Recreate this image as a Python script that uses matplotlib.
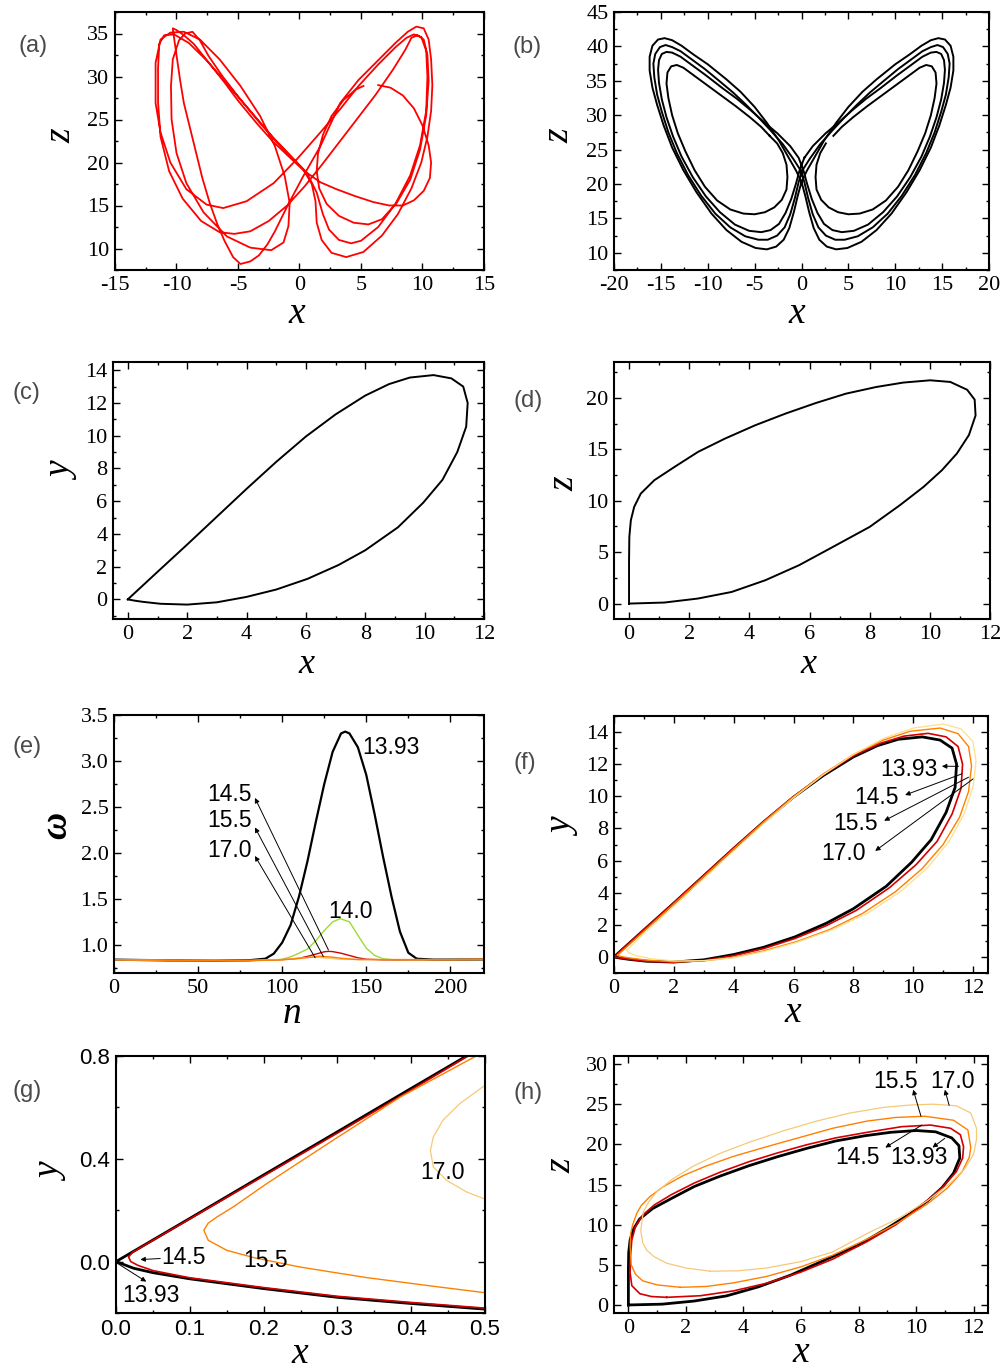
"""
Lorenz-type orbits: x-z butterflies, a single 13.93 orbit, and the
omega(n) bumps with the orbits for 13.93 / 14.5 / 15.5 / 17.0.
"""

import numpy as np
import matplotlib
matplotlib.use("Agg")
import matplotlib.pyplot as plt
from matplotlib.ticker import MultipleLocator, FormatStrFormatter

W, H = 1003, 1372

# ---------------- (a) red trajectory, x-z (four legs of one run) ----------------
a_leg1_x = [6.4, 7.4, 8.4, 9.3, 10.0, 10.5, 10.7, 10.6, 10.1, 9.3, 8.4, 7.3, 6.0, 4.5, 3.0, 1.7, 0.4,
            -0.8, -2.2, -3.5, -5.0, -6.2, -7.6, -8.6, -9.4, -10.0, -10.3]
a_leg1_z = [29.0, 28.7, 27.8, 26.3, 24.3, 22.0, 20.0, 18.2, 16.7, 15.6, 15.0, 15.0, 15.4, 16.1, 16.9, 17.7, 19.0,
            20.6, 22.5, 24.6, 27.2, 29.5, 32.0, 33.8, 34.8, 35.4, 35.6]
a_leg2_x = [-10.2, -10.0, -9.7, -9.4, -8.9, -8.4, -7.9, -7.3, -6.7, -6.1, -5.4, -4.8, -4.0, -3.3, -2.6, -2.0,
            -1.0, 0.3, 1.7, 3.3, 4.8, 6.4, 7.8, 8.8, 9.5, 10.1, 10.5, 10.7, 10.8, 10.7, 10.4, 9.9, 9.1, 8.0,
            6.7, 5.2, 3.8, 2.6, 1.8, 1.4, 1.3, 1.0, 0.3, -0.8]
a_leg2_z = [34.5, 32.5, 29.5, 26.9, 24.0, 21.1, 18.2, 15.3, 12.9, 10.9, 9.0, 8.2, 8.5, 9.2, 10.5, 12.0,
            14.9, 18.4, 21.9, 26.9, 29.6, 31.9, 33.9, 35.2, 35.8, 35.6, 34.3, 32.0, 29.0, 26.0, 23.0, 20.0, 17.0, 14.0,
            11.5, 9.6, 9.0, 9.5, 11.0, 13.0, 15.5, 17.5, 19.2, 20.8]
a_leg3_x = [-2.0, -3.4, -4.9, -6.3, -7.4, -8.1, -8.7, -9.3, -9.8, -10.3, -10.45, -10.4, -10.0, -9.2, -7.8,
            -5.9, -4.0, -2.3, -1.3, -0.9, -0.8, -1.2, -2.0, -3.2, -4.8, -6.5, -8.1, -9.4, -10.5, -11.3, -11.7,
            -11.7, -11.3, -10.5, -9.2, -7.55, -6.2, -4.3, -2.1, -0.2, 1.7, 3.3, 4.8, 6.4, 7.8, 8.7, 9.3, 9.9,
            10.3, 10.4, 10.3, 9.8, 9.0, 7.8, 6.4, 5.0, 4.2, 3.2, 2.4, 1.9, 1.4, 0.6, -0.6]
a_leg3_z = [22.6, 24.9, 27.5, 30.1, 32.4, 34.2, 35.2, 35.0, 34.2, 32.0, 28.9, 25.0, 21.1, 17.6, 14.2,
            11.4, 10.1, 9.8, 10.7, 12.6, 15.3, 18.4, 21.9, 25.4, 28.9, 32.0, 34.3, 35.2, 35.1, 34.3, 31.6,
            26.9, 23.5, 20.0, 16.9, 15.1, 14.7, 15.5, 17.6, 20.4, 23.5, 26.2, 28.9, 31.4, 33.4, 34.5, 34.9, 34.6,
            33.0, 30.0, 26.0, 22.0, 18.5, 15.2, 12.5, 10.9, 10.6, 11.0, 12.2, 14.0, 16.5, 18.8, 20.6]
a_leg4_x = [-2.2, -4.0, -5.8, -7.5, -9.0, -10.2, -11.0, -11.4, -11.5, -11.5, -11.3, -10.6, -9.5, -8.0,
            -6.5, -5.3, -4.0, -2.5, -1.0, 0.4, 1.8, 3.2, 4.7, 6.2, 7.6, 8.6, 9.1, 9.6, 10.1, 10.4, 10.5, 10.3,
            9.8, 9.0, 7.9, 6.7, 5.6, 4.4, 3.2, 2.2, 1.6, 1.4, 1.5, 1.9, 2.6, 3.6, 4.6, 5.2]
a_leg4_z = [23.0, 26.0, 29.0, 31.8, 33.9, 34.9, 34.8, 33.8, 31.0, 27.0, 23.0, 19.0, 15.8, 13.2,
            11.9, 11.7, 12.0, 13.2, 15.0, 17.2, 19.7, 22.3, 25.1, 27.9, 30.8, 33.1, 34.5, 34.8, 34.3, 32.5, 29.5, 25.5,
            21.5, 18.0, 15.3, 13.4, 12.8, 13.0, 13.8, 15.2, 17.0, 19.0, 21.0, 23.2, 25.4, 27.3, 28.5, 28.9]

# ---------------- (b) black butterfly, x-z: right lobes and left lobes ----------------
b_r1_x = [0.0, 0.6, 1.4, 2.4, 3.7, 5.0, 6.5, 8.0, 10.0, 11.5, 12.8, 13.8, 14.6, 15.3, 15.9, 16.2, 16.2, 15.9,
          15.4, 14.7, 13.8, 12.6, 11.2, 9.6, 8.0, 6.4, 4.9, 3.7, 2.7, 1.9, 1.3, 0.8, 0.4]
b_r1_z = [20.3, 22.0, 23.9, 26.3, 28.9, 31.2, 33.4, 35.2, 37.4, 38.8, 40.1, 40.9, 41.2, 41.0, 40.1, 38.5, 36.5,
          34.0, 31.5, 28.5, 25.3, 22.0, 18.8, 15.7, 13.3, 11.6, 10.7, 10.5, 10.9, 11.9, 13.6, 16.0, 18.3]
b_l1_x = [-0.0, -0.6, -1.4, -2.4, -3.7, -5.0, -6.5, -8.0, -10.0, -11.5, -12.8, -13.8, -14.6, -15.3, -15.9, -16.2,
          -16.2, -15.9, -15.4, -14.7, -13.8, -12.6, -11.2, -9.6, -8.0, -6.4, -4.9, -3.7, -2.7, -1.9, -1.3, -0.8, -0.4]
b_l1_z = [20.3, 22.0, 23.9, 26.3, 28.9, 31.2, 33.4, 35.2, 37.4, 38.8, 40.1, 40.9, 41.2, 41.0, 40.1, 38.5, 36.5,
          34.0, 31.5, 28.5, 25.3, 22.0, 18.8, 15.7, 13.3, 11.6, 10.7, 10.5, 10.9, 11.9, 13.6, 16.0, 18.3]
b_r2_x = [0.1, 0.9, 2.0, 3.3, 4.6, 5.9, 7.3, 8.7, 10.3, 11.7, 12.9, 13.8, 14.5, 15.1, 15.6, 15.8, 15.7, 15.4,
          14.9, 14.2, 13.3, 12.1, 10.7, 9.2, 7.6, 6.0, 4.6, 3.6, 2.6, 1.8, 1.2, 0.7, 0.3]
b_r2_z = [22.0, 23.7, 25.8, 27.8, 29.7, 31.5, 33.3, 34.9, 36.7, 38.1, 39.3, 39.9, 40.2, 39.9, 38.9, 37.5, 35.5,
          33.0, 30.5, 27.5, 24.5, 21.3, 18.3, 15.7, 13.7, 12.4, 11.9, 11.9, 12.5, 13.7, 15.6, 18.0, 20.3]
b_l2_x = [-0.1, -0.9, -2.0, -3.3, -4.6, -5.9, -7.3, -8.7, -10.3, -11.7, -12.9, -13.8, -14.5, -15.1, -15.6, -15.8,
          -15.7, -15.4, -14.9, -14.2, -13.3, -12.1, -10.7, -9.2, -7.6, -6.0, -4.6, -3.6, -2.6, -1.8, -1.2, -0.7, -0.3]
b_l2_z = [22.0, 23.7, 25.8, 27.8, 29.7, 31.5, 33.3, 34.9, 36.7, 38.1, 39.3, 39.9, 40.2, 39.9, 38.9, 37.5, 35.5,
          33.0, 30.5, 27.5, 24.5, 21.3, 18.3, 15.7, 13.7, 12.4, 11.9, 11.9, 12.5, 13.7, 15.6, 18.0, 20.3]
b_r3_x = [0.3, 1.2, 2.6, 4.0, 5.4, 6.9, 8.4, 10.2, 11.7, 12.9, 13.8, 14.4, 14.9, 15.2, 15.3, 15.2, 14.9, 14.4,
          13.7, 12.8, 11.6, 10.2, 8.7, 7.1, 5.6, 4.3, 3.3, 2.4, 1.7, 1.1, 0.6, 0.2]
b_r3_z = [23.8, 25.5, 27.4, 29.0, 30.7, 32.4, 33.9, 35.8, 37.3, 38.5, 39.1, 39.2, 38.9, 38.0, 36.6, 34.7, 32.3, 29.7,
          26.9, 24.0, 21.0, 18.2, 15.9, 14.1, 13.2, 13.0, 13.3, 14.2, 15.8, 17.8, 20.0, 22.0]
b_l3_x = [-0.3, -1.2, -2.6, -4.0, -5.4, -6.9, -8.4, -10.2, -11.7, -12.9, -13.8, -14.4, -14.9, -15.2, -15.3, -15.2,
          -14.9, -14.4, -13.7, -12.8, -11.6, -10.2, -8.7, -7.1, -5.6, -4.3, -3.3, -2.4, -1.7, -1.1, -0.6, -0.2]
b_l3_z = [23.8, 25.5, 27.4, 29.0, 30.7, 32.4, 33.9, 35.8, 37.3, 38.5, 39.1, 39.2, 38.9, 38.0, 36.6, 34.7, 32.3, 29.7,
          26.9, 24.0, 21.0, 18.2, 15.9, 14.1, 13.2, 13.0, 13.3, 14.2, 15.8, 17.8, 20.0, 22.0]
b_r4_x = [3.4, 4.3, 5.5, 7.0, 8.6, 10.2, 11.6, 12.6, 13.3, 13.9, 14.3, 14.4, 14.2, 13.8, 13.2, 12.4, 11.4, 10.3,
          9.0, 7.6, 6.2, 5.0, 3.9, 2.9, 2.1, 1.6, 1.5, 1.6, 2.0, 2.6]
b_r4_z = [27.0, 28.3, 29.7, 31.3, 32.9, 34.5, 35.9, 36.9, 37.3, 37.1, 36.2, 34.6, 32.5, 30.0, 27.4, 24.8, 22.0, 19.6,
          17.6, 16.3, 15.7, 15.6, 15.9, 16.6, 17.7, 19.2, 21.0, 22.8, 24.5, 25.9]
b_l4_x = [-3.4, -4.3, -5.5, -7.0, -8.6, -10.2, -11.6, -12.6, -13.3, -13.9, -14.3, -14.4, -14.2, -13.8, -13.2, -12.4,
          -11.4, -10.3, -9.0, -7.6, -6.2, -5.0, -3.9, -2.9, -2.1, -1.6, -1.5, -1.6, -2.0, -2.6, -3.4]
b_l4_z = [27.0, 28.3, 29.7, 31.3, 32.9, 34.5, 35.9, 36.9, 37.3, 37.1, 36.2, 34.6, 32.5, 30.0, 27.4, 24.8, 22.0, 19.6,
          17.6, 16.3, 15.7, 15.6, 15.9, 16.6, 17.7, 19.2, 21.0, 22.8, 24.5, 25.9, 27.0]

# ---------------- orbit 13.93: (c) x-y and (d) x-z ----------------
c_x = [0, 0.5, 1, 2, 3, 4, 5, 6, 7, 8, 8.8, 9.5, 10.3, 10.9, 11.3, 11.45, 11.4, 11.1, 10.6, 9.95, 9.1, 8.0,
       7.1, 6.05, 5.0, 4.0, 3.0, 2.0, 1.1, 0.5, 0.2, 0]
c_y = [0, 0.84, 1.68, 3.35, 5.05, 6.75, 8.4, 9.95, 11.3, 12.45, 13.15, 13.55, 13.7, 13.5, 13.0, 12.0, 10.55, 9.0,
       7.3, 5.9, 4.4, 3.0, 2.1, 1.25, 0.6, 0.15, -0.18, -0.32, -0.27, -0.15, -0.07, 0]
d_x = [0, 1.17, 2.29, 3.41, 4.53, 5.65, 6.77, 8.0, 9.0, 9.79, 10.4, 10.9, 11.3, 11.52, 11.49, 11.24, 10.68, 10.01,
       9.12, 8.22, 7.21, 6.21, 5.2, 4.19, 3.19, 2.29, 1.51, 0.84, 0.39, 0.17, 0.06, 0.01, 0, 0]
d_z = [0, 0.1, 0.49, 1.13, 2.27, 3.73, 5.5, 7.46, 9.56, 11.35, 12.97, 14.6, 16.4, 18.3, 19.84, 20.8, 21.56, 21.72,
       21.5, 21.07, 20.42, 19.51, 18.48, 17.34, 16.05, 14.75, 13.29, 12.0, 10.7, 9.4, 8.1, 6.5, 4.2, 0]

# ---------------- (e) omega(n) ----------------
e_n_1393 = [0, 20, 40, 60, 80, 90, 95, 100, 105, 110, 115, 120, 125, 130, 135, 137.5, 140, 145, 150, 155, 160,
            165, 170, 175, 180, 190, 200, 220]
e_w_1393 = [0.845, 0.84, 0.835, 0.833, 0.838, 0.855, 0.91, 1.03, 1.22, 1.53, 1.91, 2.34, 2.75, 3.1, 3.3, 3.32,
            3.3, 3.15, 2.85, 2.42, 1.96, 1.53, 1.15, 0.92, 0.855, 0.845, 0.845, 0.848]
e_n_140 = [0, 40, 80, 95, 100, 105, 110, 115, 120, 125, 130, 134.5, 140, 145, 150, 155, 160, 165, 170, 200, 220]
e_w_140 = [0.845, 0.835, 0.833, 0.84, 0.85, 0.875, 0.915, 0.96, 1.05, 1.16, 1.255, 1.29, 1.255, 1.11, 0.97,
           0.89, 0.855, 0.845, 0.842, 0.845, 0.848]
e_n_145 = [0, 40, 80, 100, 110, 115, 120, 125, 127.5, 130, 135, 140, 145, 150, 160, 200, 220]
e_w_145 = [0.845, 0.835, 0.835, 0.845, 0.86, 0.88, 0.905, 0.93, 0.935, 0.932, 0.915, 0.89, 0.865, 0.85, 0.843,
           0.845, 0.848]
e_n_155 = [0, 40, 80, 100, 110, 115, 122.5, 130, 135, 145, 200, 220]
e_w_155 = [0.845, 0.835, 0.835, 0.843, 0.857, 0.868, 0.882, 0.872, 0.86, 0.845, 0.845, 0.848]
e_n_170 = [0, 40, 80, 100, 110, 118.6, 125, 135, 200, 220]
e_w_170 = [0.845, 0.835, 0.836, 0.847, 0.862, 0.872, 0.865, 0.848, 0.845, 0.848]

# ---------------- (f) x-y for 14.5, 15.5, 17.0 ----------------
f_x_145 = [0.02, 0.5, 1, 2, 3, 4, 5, 6, 7, 8, 8.9, 9.7, 10.5, 11.1, 11.5, 11.65, 11.6, 11.3, 10.8, 10.1, 9.2,
           8.1, 7.1, 6.05, 5.0, 4.0, 3.0, 2.0, 1.1, 0.5, 0.15, 0.03, 0.02]
f_y_145 = [0.02, 0.86, 1.7, 3.38, 5.08, 6.78, 8.43, 9.98, 11.35, 12.52, 13.3, 13.75, 13.92, 13.7, 13.1, 12.0,
           10.5, 8.9, 7.2, 5.75, 4.3, 2.9, 1.95, 1.15, 0.52, 0.08, -0.22, -0.33, -0.27, -0.14, -0.05, 0.0, 0.02]
f_x_155 = [0.12, 0.5, 1, 2, 3, 4, 5, 6, 7, 8, 9, 9.9, 10.9, 11.5, 11.85, 11.95, 11.85, 11.55, 11.0, 10.3, 9.4,
           8.3, 7.2, 6.1, 5.0, 4.0, 3.0, 2.0, 1.1, 0.5, 0.2, 0.12]
f_y_155 = [0.12, 0.76, 1.6, 3.3, 5.0, 6.72, 8.4, 9.98, 11.4, 12.6, 13.5, 14.05, 14.25, 13.9, 13.1, 11.9, 10.3,
           8.7, 7.0, 5.5, 4.05, 2.7, 1.7, 0.95, 0.38, -0.02, -0.25, -0.3, -0.2, -0.06, 0.04, 0.12]
f_x_170 = [0.43, 1, 2, 3, 4, 5, 6, 7, 8, 9, 10, 11.0, 11.6, 12.0, 12.1, 12.0, 11.7, 11.2, 10.5, 9.6, 8.5, 7.3,
           6.1, 5.0, 4.0, 3.0, 2.0, 1.2, 0.7, 0.47, 0.43]
f_y_170 = [0.43, 1.45, 3.15, 4.88, 6.6, 8.3, 9.9, 11.35, 12.6, 13.6, 14.25, 14.5, 14.2, 13.4, 12.2, 10.6, 8.9,
           7.2, 5.6, 4.1, 2.75, 1.7, 0.9, 0.33, -0.05, -0.23, -0.25, -0.1, 0.1, 0.3, 0.43]

# ---------------- (g) close-up of the x-y corner ----------------
g_x_1393 = [0.5, 0.4, 0.3, 0.2, 0.1, 0.05, 0.024, 0.0, 0.1, 0.2, 0.3, 0.4, 0.475]
g_y_1393 = [-0.185, -0.163, -0.139, -0.105, -0.067, -0.043, -0.026, 0.0, 0.168, 0.337, 0.505, 0.674, 0.8]
g_x_145 = [0.5, 0.4, 0.3, 0.2, 0.1, 0.05, 0.03, 0.02, 0.017, 0.022, 0.04, 0.1, 0.2, 0.3, 0.4, 0.477]
g_y_145 = [-0.181, -0.159, -0.135, -0.101, -0.063, -0.035, -0.015, 0.0, 0.018, 0.035, 0.066, 0.166, 0.333,
           0.5, 0.668, 0.8]
g_x_155 = [0.5, 0.43, 0.339, 0.249, 0.186, 0.15, 0.125, 0.119, 0.125, 0.137, 0.159, 0.204, 0.294, 0.385, 0.488]
g_y_155 = [-0.121, -0.096, -0.062, -0.021, 0.016, 0.044, 0.083, 0.122, 0.15, 0.174, 0.213, 0.303, 0.472, 0.64, 0.8]
g_x_170 = [0.5, 0.475, 0.448, 0.43, 0.426, 0.43, 0.443, 0.466, 0.5]
g_y_170 = [0.243, 0.271, 0.316, 0.368, 0.433, 0.485, 0.55, 0.615, 0.686]

# ---------------- (h) x-z for 14.5, 15.5, 17.0 ----------------
h_x_145 = [1.33, 2.5, 3.65, 4.8, 6.0, 7.1, 8.3, 9.3, 10.2, 10.9, 11.4, 11.62, 11.65, 11.54, 11.2, 10.5, 9.5, 8.3,
           7.2, 6.2, 5.2, 4.2, 3.2, 2.3, 1.5, 0.9, 0.5, 0.25, 0.12, 0.07, 0.06, 0.12, 0.4, 0.8, 1.33]
h_z_145 = [0.95, 1.15, 1.75, 2.7, 4.1, 5.7, 7.9, 10.0, 12.4, 14.6, 16.6, 18.3, 19.7, 21.2, 22.0, 22.4, 22.2, 21.5,
           20.8, 19.95, 18.95, 17.85, 16.55, 15.2, 13.75, 12.45, 11.2, 9.8, 8.1, 6.0, 4.0, 2.4, 1.4, 1.05, 0.95]
h_x_155 = [1.8, 2.7, 3.65, 4.8, 6.0, 7.1, 8.3, 9.4, 10.4, 11.1, 11.6, 11.85, 11.9, 11.8, 11.3, 10.3, 9.3, 8.3,
           7.1, 6.0, 4.8, 3.65, 2.7, 1.9, 1.2, 0.75, 0.45, 0.29, 0.15, 0.08, 0.06, 0.1, 0.25, 0.5, 1.0, 1.8]
h_z_155 = [2.2, 2.3, 2.75, 3.55, 4.75, 6.2, 8.2, 10.3, 12.6, 14.6, 16.6, 18.4, 19.6, 21.8, 23.0, 23.5, 23.35, 22.9,
           22.0, 20.9, 19.7, 18.5, 17.3, 16.1, 14.7, 13.5, 12.4, 11.4, 10.0, 8.9, 7.3, 5.0, 3.8, 3.0, 2.5, 2.2]
h_x_170 = [2.84, 3.8, 4.8, 6.0, 7.1, 8.3, 9.45, 10.4, 11.2, 11.7, 12.0, 12.1, 12.1, 11.9, 11.4, 10.6, 9.8, 8.87,
           7.7, 6.55, 5.4, 4.23, 3.2, 2.26, 1.5, 0.99, 0.7, 0.52, 0.43, 0.5, 0.64, 0.9, 1.33, 2.0, 2.84]
h_z_170 = [4.2, 4.25, 4.6, 5.4, 6.6, 8.9, 10.9, 13.0, 15.2, 17.0, 18.8, 20.6, 22.0, 23.9, 24.8, 25.0, 24.9, 24.6,
           23.9, 22.9, 21.7, 20.3, 18.9, 17.3, 15.6, 14.1, 12.8, 11.6, 9.3, 7.7, 6.8, 6.0, 5.2, 4.6, 4.2]

RED_A = "#ff0000"
C_145 = "#d40000"
C_155 = "#ff8000"
C_170_F = "#fde08a"
C_170 = "#f6c978"
C_140 = "#99dd33"

plt.rcParams["font.family"] = ["Liberation Serif", "DejaVu Serif"]
plt.rcParams["axes.unicode_minus"] = False
SANS = ["Liberation Sans", "DejaVu Sans"]

fig = plt.figure(figsize=(W / 100, H / 100), dpi=100)


def make_axes(box, xlim, ylim, xmaj, xmin, ymaj, ymin, fmt=None, sans=False):
    left, top, right, bottom = box
    ax = fig.add_axes([left / W, 1 - bottom / H, (right - left) / W, (bottom - top) / H])
    ax.set_xlim(*xlim)
    ax.set_ylim(*ylim)
    ax.xaxis.set_major_locator(MultipleLocator(xmaj))
    ax.xaxis.set_minor_locator(MultipleLocator(xmin))
    ax.yaxis.set_major_locator(MultipleLocator(ymaj))
    ax.yaxis.set_minor_locator(MultipleLocator(ymin))
    if fmt:
        ax.xaxis.set_major_formatter(FormatStrFormatter(fmt[0]))
        ax.yaxis.set_major_formatter(FormatStrFormatter(fmt[1]))
    ax.tick_params(which="both", direction="in", top=True, right=True, width=1.0)
    ax.tick_params(which="major", length=5, labelsize=16, pad=4)
    ax.tick_params(which="minor", length=2.5)
    for lab in ax.get_xticklabels() + ax.get_yticklabels():
        lab.set_family(SANS if sans else ["Liberation Serif"])
    for sp in ax.spines.values():
        sp.set_linewidth(1.5)
    return ax


def axis_labels(ax, box, xl, xbase, yl, yc, ybold=False, xva="baseline", xsize=27):
    # xbase: (centre x, baseline y) of the x label; yc: centre of the y label, in pixels
    left, top, right, bottom = box
    ax.set_xlabel(xl, fontsize=xsize, style="italic")
    ax.xaxis.set_label_coords((xbase[0] - left) / (right - left), (bottom - xbase[1]) / (bottom - top))
    ax.xaxis.label.set_va(xva)
    ax.set_ylabel(yl, fontsize=27, style="italic", fontweight="bold" if ybold else "normal")
    ax.yaxis.set_label_coords((yc[0] - left) / (right - left), (bottom - yc[1]) / (bottom - top))
    ax.yaxis.label.set_va("center")


def panel_tag(tag, px, py):
    fig.text(px / W, 1 - py / H, tag, ha="center", va="center", fontsize=17,
             family=SANS, color="#4a4a4a")


def arrow(ax, head, tail):
    ax.annotate("", xy=head, xytext=tail,
                arrowprops=dict(arrowstyle="-|>", color="k", lw=0.7, mutation_scale=7,
                                shrinkA=0, shrinkB=0))


def note(ax, x, y, s, ha="left"):
    ax.text(x, y, s, ha=ha, va="center", fontsize=16.5, family=SANS)


# (a)
box = (115, 12, 484, 270)
ax = make_axes(box, (-15, 15), (7.5, 37.5), 5, 2.5, 5, 2.5)
a_x = a_leg1_x + a_leg2_x + a_leg3_x + a_leg4_x
a_z = a_leg1_z + a_leg2_z + a_leg3_z + a_leg4_z
ax.plot(a_x, a_z, color=RED_A, lw=1.3)
axis_labels(ax, box, "x", (297, 323), "z", (61, 136))
panel_tag("(a)", 33, 46)

# (b)
box = (614, 12, 989, 270)
ax = make_axes(box, (-20, 20), (7.5, 45), 5, 2.5, 5, 2.5)
for rx, rz, lx, lz in [(b_r1_x, b_r1_z, b_l1_x, b_l1_z), (b_r2_x, b_r2_z, b_l2_x, b_l2_z),
                       (b_r3_x, b_r3_z, b_l3_x, b_l3_z)]:
    ax.plot(rx + lx + rx[:1], rz + lz + rz[:1], color="k", lw=1.4)
ax.plot(b_r4_x, b_r4_z, color="k", lw=1.4)
ax.plot(b_l4_x, b_l4_z, color="k", lw=1.4)
axis_labels(ax, box, "x", (797, 323), "z", (559, 136))
panel_tag("(b)", 527, 47)

# (c)
box = (113, 362, 484, 619)
ax = make_axes(box, (-0.5, 12), (-1.2, 14.5), 2, 1, 2, 1)
ax.plot(c_x, c_y, color="k", lw=1.4)
axis_labels(ax, box, "x", (306, 673), "y", (63, 472), xsize=26)
panel_tag("(c)", 26, 393)

# (d)
box = (614, 362, 990, 619)
ax = make_axes(box, (-0.5, 12), (-1.5, 23.5), 2, 1, 5, 2.5)
ax.plot(d_x, d_z, color="k", lw=1.4)
axis_labels(ax, box, "x", (808, 673), "z", (564, 484), xsize=26)
panel_tag("(d)", 528, 401)

# (e)
box = (114, 715, 484, 973)
ax = make_axes(box, (0, 220), (0.7, 3.5), 50, 25, 0.5, 0.25, fmt=("%d", "%.1f"))
ax.plot(e_n_1393, e_w_1393, color="k", lw=1.6)
ax.plot(e_n_140, e_w_140, color=C_140, lw=1.0)
ax.plot(e_n_145, e_w_145, color=C_145, lw=1.0)
ax.plot(e_n_170, e_w_170, color=C_170, lw=1.0)
ax.plot(e_n_155, e_w_155, color=C_155, lw=1.0)
note(ax, 147.5, 3.15, "13.93")
note(ax, 127.5, 1.37, "14.0")
for lab, y_lab, head, tail in [("14.5", 2.64, (83.8, 2.6), (127.5, 0.95)),
                               ("15.5", 2.35, (83.8, 2.28), (124.5, 0.877)),
                               ("17.0", 2.03, (83.8, 1.97), (119.6, 0.866))]:
    note(ax, 82, y_lab, lab, ha="right")
    arrow(ax, head, tail)
axis_labels(ax, box, "n", (292, 1023), "\u03c9", (57, 825), ybold=True)
panel_tag("(e)", 27, 747)

# (f)
box = (614, 716, 988, 973)
ax = make_axes(box, (0, 12.5), (-1, 15), 2, 1, 2, 1)
ax.plot(c_x, c_y, color="k", lw=2.0)
ax.plot(f_x_145, f_y_145, color=C_145, lw=1.2)
ax.plot(f_x_155, f_y_155, color=C_155, lw=1.0)
ax.plot(f_x_170, f_y_170, color=C_170_F, lw=0.9)
note(ax, 8.9, 11.7, "13.93")
note(ax, 8.02, 9.94, "14.5")
note(ax, 7.33, 8.31, "15.5")
note(ax, 6.94, 6.44, "17.0")
arrow(ax, (10.96, 11.87), (11.52, 11.87))
arrow(ax, (9.73, 10.08), (11.63, 11.4))
arrow(ax, (9.03, 8.48), (11.85, 11.19))
arrow(ax, (8.73, 6.6), (12.0, 11.08))
axis_labels(ax, box, "x", (793, 1022), "y", (564, 828))
panel_tag("(f)", 525, 763)

# (g)
box = (116, 1056, 485, 1313)
ax = make_axes(box, (0, 0.5), (-0.2, 0.8), 0.1, 0.05, 0.4, 0.2, fmt=("%.1f", "%.1f"), sans=True)
ax.plot(g_x_1393, g_y_1393, color="k", lw=2.0)
ax.plot(g_x_145, g_y_145, color=C_145, lw=1.2)
ax.plot(g_x_155, g_y_155, color=C_155, lw=1.0)
ax.plot(g_x_170, g_y_170, color=C_170, lw=0.9)
note(ax, 0.061, 0.016, "14.5")
note(ax, 0.008, -0.131, "13.93")
note(ax, 0.173, 0.003, "15.5")
note(ax, 0.412, 0.346, "17.0")
arrow(ax, (0.033, 0.008), (0.06, 0.012))
arrow(ax, (0.041, -0.078), (0.001, -0.005))
axis_labels(ax, box, "x", (300, 1371), "y", (52, 1173), xva="bottom")
panel_tag("(g)", 27, 1091)

# (h)
box = (614, 1056, 988, 1313)
ax = make_axes(box, (-0.5, 12.5), (-1, 31), 2, 1, 5, 2.5)
ax.plot(d_x, d_z, color="k", lw=2.0)
ax.plot(h_x_145, h_z_145, color=C_145, lw=1.2)
ax.plot(h_x_155, h_z_155, color=C_155, lw=1.0)
ax.plot(h_x_170, h_z_170, color=C_170, lw=0.9)
note(ax, 8.52, 27.8, "15.5")
note(ax, 10.5, 27.8, "17.0")
note(ax, 7.19, 18.3, "14.5")
note(ax, 9.1, 18.3, "13.93")
arrow(ax, (9.9, 26.8), (10.17, 23.5))
arrow(ax, (11.0, 26.8), (11.15, 24.85))
arrow(ax, (8.93, 19.6), (10.2, 22.4))
arrow(ax, (10.57, 19.6), (11.0, 20.75))
axis_labels(ax, box, "x", (801, 1362), "z", (561, 1166))
panel_tag("(h)", 528, 1093)

fig.savefig("out.png", dpi=100)
